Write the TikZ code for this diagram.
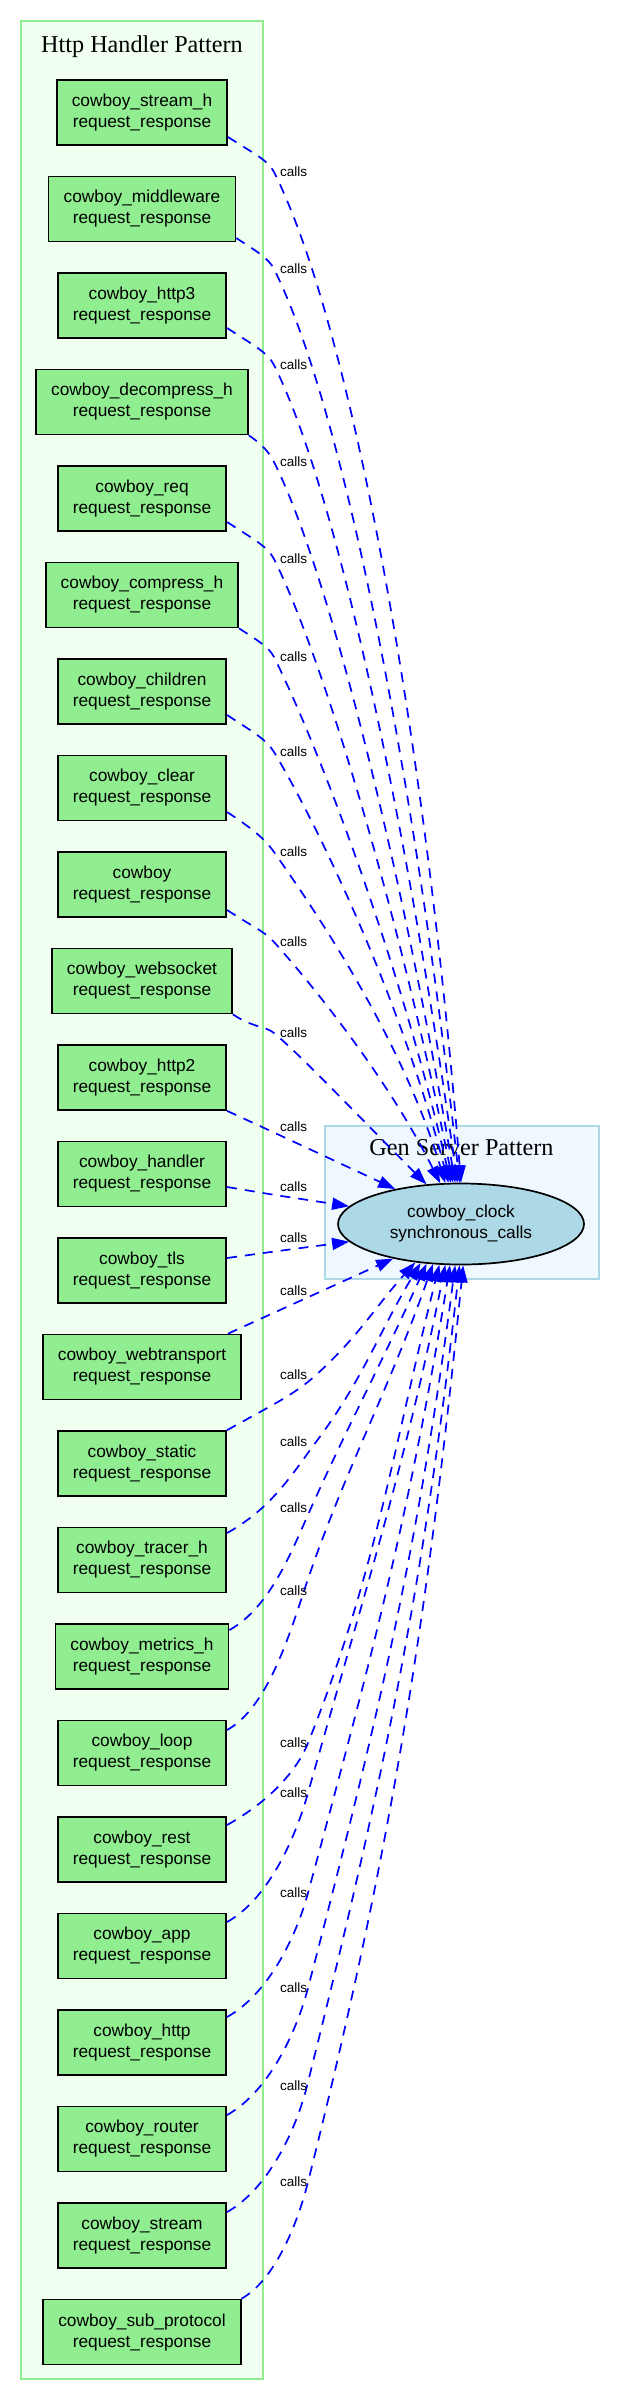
\documentclass[tikz,border=0pt]{standalone}
\usepackage{fontspec}
\setmainfont{Liberation Serif}
\setsansfont{Liberation Sans}
\usetikzlibrary{arrows.meta,shapes.geometric}
\definecolor{hdfill}{HTML}{F0FFF0}
\definecolor{hdline}{HTML}{90EE90}
\definecolor{gsfill}{HTML}{F0F8FF}
\definecolor{gsline}{HTML}{ADD8E6}
\definecolor{nodegreen}{HTML}{90EE90}
\definecolor{nodeblue}{HTML}{ADD8E6}
\tikzset{
  hnode/.style={rectangle, draw=black, line width=1.7pt, fill=nodegreen, font=\sffamily\fontsize{17.3}{21}\selectfont, align=center, inner xsep=15pt, inner ysep=0pt, minimum width=167pt, minimum height=65pt},
  gsnode/.style={ellipse, draw=black, line width=1.7pt, fill=nodeblue, font=\sffamily\fontsize{17.3}{21}\selectfont, align=center, inner sep=0pt, minimum width=246pt, minimum height=81pt},
  ctitle/.style={font=\fontsize{24.2}{29}\selectfont, anchor=base, inner sep=0pt},
  lbl/.style={font=\sffamily\fontsize{13.5}{16}\selectfont, inner sep=0pt},
  callsedge/.style={draw=blue, line width=1.7pt, dash pattern=on 10pt off 8pt, -{Triangle[length=17pt,width=12pt]}},
  hcluster/.style={draw=hdline, fill=hdfill, line width=1.7pt},
  gcluster/.style={draw=gsline, fill=gsfill, line width=1.7pt},
}
\begin{document}
\begin{tikzpicture}[x=1pt,y=-1pt]
\useasboundingbox[fill=white] (0,0) rectangle (620,2400);
% clusters
\draw[hcluster] (21,21) rectangle (263,2379);
\draw[gcluster] (325,1126) rectangle (599,1279);
\node[ctitle] (t1) at (142,53) {Http Handler Pattern};
\node[ctitle] (t2) at (461.5,1155) {Gen Server Pattern};
% nodes
\node[hnode] (n1) at (142,112.5) {cowboy\_stream\_h\\request\_response};
\node[hnode] (n2) at (142,209) {cowboy\_middleware\\request\_response};
\node[hnode] (n3) at (142,305.5) {cowboy\_http3\\request\_response};
\node[hnode] (n4) at (142,402) {cowboy\_decompress\_h\\request\_response};
\node[hnode] (n5) at (142,498.5) {cowboy\_req\\request\_response};
\node[hnode] (n6) at (142,595) {cowboy\_compress\_h\\request\_response};
\node[hnode] (n7) at (142,691.5) {cowboy\_children\\request\_response};
\node[hnode] (n8) at (142,788) {cowboy\_clear\\request\_response};
\node[hnode] (n9) at (142,884.5) {cowboy\\request\_response};
\node[hnode] (n10) at (142,981) {cowboy\_websocket\\request\_response};
\node[hnode] (n11) at (142,1077.5) {cowboy\_http2\\request\_response};
\node[hnode] (n12) at (142,1174) {cowboy\_handler\\request\_response};
\node[hnode] (n13) at (142,1270.5) {cowboy\_tls\\request\_response};
\node[hnode] (n14) at (142,1367) {cowboy\_webtransport\\request\_response};
\node[hnode] (n15) at (142,1463.5) {cowboy\_static\\request\_response};
\node[hnode] (n16) at (142,1560) {cowboy\_tracer\_h\\request\_response};
\node[hnode] (n17) at (142,1656.5) {cowboy\_metrics\_h\\request\_response};
\node[hnode] (n18) at (142,1753) {cowboy\_loop\\request\_response};
\node[hnode] (n19) at (142,1849.5) {cowboy\_rest\\request\_response};
\node[hnode] (n20) at (142,1946) {cowboy\_app\\request\_response};
\node[hnode] (n21) at (142,2042.5) {cowboy\_http\\request\_response};
\node[hnode] (n22) at (142,2139) {cowboy\_router\\request\_response};
\node[hnode] (n23) at (142,2235.5) {cowboy\_stream\\request\_response};
\node[hnode] (n24) at (142,2332) {cowboy\_sub\_protocol\\request\_response};
\node[gsnode] (gs) at (461,1224) {cowboy\_clock\\synchronous\_calls};
% waypoints
\coordinate (w1) at (274,172);
\coordinate (w2) at (274,269);
\coordinate (w3) at (274,365);
\coordinate (w4) at (274,462);
\coordinate (w5) at (274,559);
\coordinate (w6) at (274,657);
\coordinate (w7) at (274,752);
\coordinate (w8) at (274,852);
\coordinate (w9) at (274,942);
\coordinate (w10) at (274,1033);
\coordinate (w11) at (275,1133);
\coordinate (w12) at (275,1195);
\coordinate (w13) at (275,1251.4);
\coordinate (w14) at (280,1310);
\coordinate (w15) at (316,1375);
\coordinate (w16) at (316,1442);
\coordinate (w17) at (311,1508);
\coordinate (w18) at (304,1591);
\coordinate (w19) at (308,1743);
\coordinate (w20) at (308,1793);
\coordinate (w21) at (308,1893);
\coordinate (w22) at (308,1988);
\coordinate (w23) at (307,2086);
\coordinate (w24) at (308,2182);
% edges
\draw[callsedge] ([yshift=-24.5pt]n1.east) .. controls +(23.4,15.4) and +(-6.1,-12.3) .. (w1) .. controls +(75.9,151.7) and +(-36.4,-455.2) .. (gs.90);
\draw[callsedge] ([yshift=-29pt]n2.east) .. controls +(19.3,12.7) and +(-5.4,-10.9) .. (w2) .. controls +(68.6,137.2) and +(-45.3,-411.5) .. (gs.92.8);
\draw[callsedge] ([yshift=-22.5pt]n3.east) .. controls +(23.9,15.8) and +(-6.5,-13) .. (w3) .. controls +(61.4,122.8) and +(-51.6,-368.4) .. (gs.95.6);
\draw[callsedge] (n4.south east) .. controls +(13.2,8.7) and +(-4.8,-9.6) .. (w4) .. controls +(54.1,108.2) and +(-55.2,-324.7) .. (gs.98.4);
\draw[callsedge] ([yshift=-23.5pt]n5.east) .. controls +(23.9,15.8) and +(-6.5,-13) .. (w5) .. controls +(46.8,93.7) and +(-56.2,-281.1) .. (gs.101.2);
\draw[callsedge] (n6.south east) .. controls +(17.9,11.8) and +(-5.2,-10.3) .. (w6) .. controls +(39.5,79) and +(-54.5,-237) .. (gs.104);
\draw[callsedge] ([yshift=-23.5pt]n7.east) .. controls +(23.9,15.8) and +(-7.8,-13) .. (w7) .. controls +(38.9,64.8) and +(-50.5,-194.3) .. (gs.107.9);
\draw[callsedge] ([yshift=-24pt]n8.east) .. controls +(23.9,15.8) and +(-9.8,-14) .. (w8) .. controls +(34.9,49.8) and +(-44.8,-149.3) .. (gs.111.7);
\draw[callsedge] ([yshift=-25.5pt]n9.east) .. controls +(23.9,15.8) and +(-10.1,-11.2) .. (w9) .. controls +(32.7,36.3) and +(-54.5,-109) .. (gs.117.8);
\draw[callsedge] (n10.south east) .. controls +(20.4,13.5) and +(-8.2,-6.8) .. (w10) .. controls +(27.4,22.8) and +(-68.4,-68.4) .. (gs.131.2);
\draw[callsedge] (n11.south east) -- (w11) -- (gs.152.1);
\draw[callsedge] ([yshift=-13pt]n12.east) -- (w12) -- (gs.171.4);
\draw[callsedge] ([yshift=12.5pt]n13.east) -- (w13) -- (gs.-171);
\draw[callsedge] ([xshift=-14pt]n14.north east) -- (w14) -- (gs.-153.8);
\draw[callsedge] (n15.north east) .. controls +(45.4,-25.4) and +(-21.8,19.8) .. (w15) .. controls +(43.7,-39.7) and +(-40.8,45.4) .. (gs.-140.8);
\draw[callsedge] ([yshift=27pt]n16.east) .. controls +(45.4,-25.4) and +(-23.9,31.9) .. (w16) .. controls +(47.2,-62.9) and +(-43.1,71.9) .. (gs.-136.2);
\draw[callsedge] ([yshift=26.5pt]n17.east) .. controls +(41.2,-23.1) and +(-19.2,42.7) .. (w17) .. controls +(38.6,-85.8) and +(-44.1,98) .. (gs.-131.2);
\draw[callsedge] ([yshift=23pt]n18.east) .. controls +(39.4,-22.1) and +(-16.1,48.7) .. (w18) .. controls +(37.8,-114.7) and +(-45.9,131) .. (gs.-125.4);
\draw[callsedge] ([yshift=24.5pt]n19.east) .. controls +(41.4,-23.2) and +(-11.5,28.7) .. (w19) .. controls +(67.1,-167.7) and +(-47.9,191.7) .. (gs.-118.9);
\draw[callsedge] ([yshift=24pt]n20.east) .. controls +(41.4,-23.2) and +(-12.7,45.2) .. (w20) .. controls +(51.8,-185.1) and +(-42.3,211.5) .. (gs.-111.7);
\draw[callsedge] ([yshift=25.5pt]n21.east) .. controls +(41.4,-23.2) and +(-11.7,43.4) .. (w21) .. controls +(59.4,-220) and +(-40.2,251.5) .. (gs.-105.3);
\draw[callsedge] ([yshift=24pt]n22.east) .. controls +(41.4,-23.2) and +(-11.6,44.5) .. (w22) .. controls +(65.8,-253.2) and +(-37.6,289.4) .. (gs.-98.4);
\draw[callsedge] ([yshift=23.5pt]n23.east) .. controls +(40.9,-22.9) and +(-11,44.1) .. (w23) .. controls +(71.9,-287.5) and +(-36.1,328.6) .. (gs.-92.8);
\draw[callsedge] (n24.north east) .. controls +(33.6,-18.8) and +(-10.3,41.1) .. (w24) .. controls +(80.3,-321) and +(-36.7,367) .. (gs.-87.2);
% labels
\node[lbl] (l1) at (293.5,172) {calls};
\node[lbl] (l2) at (293.5,269) {calls};
\node[lbl] (l3) at (293.5,365) {calls};
\node[lbl] (l4) at (293.5,462) {calls};
\node[lbl] (l5) at (293.5,559) {calls};
\node[lbl] (l6) at (293.5,657) {calls};
\node[lbl] (l7) at (293.5,752) {calls};
\node[lbl] (l8) at (293.5,852) {calls};
\node[lbl] (l9) at (293.5,942) {calls};
\node[lbl] (l10) at (293.5,1033) {calls};
\node[lbl] (l11) at (293.5,1127) {calls};
\node[lbl] (l12) at (293.5,1187) {calls};
\node[lbl] (l13) at (293.5,1238) {calls};
\node[lbl] (l14) at (293.5,1291) {calls};
\node[lbl] (l15) at (293.5,1375) {calls};
\node[lbl] (l16) at (293.5,1442) {calls};
\node[lbl] (l17) at (293.5,1508) {calls};
\node[lbl] (l18) at (293.5,1591) {calls};
\node[lbl] (l19) at (293.5,1743) {calls};
\node[lbl] (l20) at (293.5,1793) {calls};
\node[lbl] (l21) at (293.5,1893) {calls};
\node[lbl] (l22) at (293.5,1988) {calls};
\node[lbl] (l23) at (293.5,2086) {calls};
\node[lbl] (l24) at (293.5,2182) {calls};
\end{tikzpicture}
\end{document}
